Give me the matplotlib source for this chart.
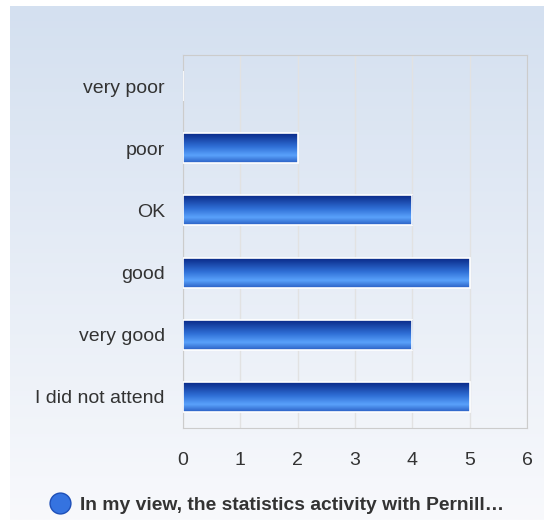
import matplotlib.pyplot as plt
import numpy as np
from matplotlib.colors import LinearSegmentedColormap
from matplotlib.lines import Line2D

categories = ['very poor', 'poor', 'OK', 'good', 'very good', 'I did not attend']
counts = [0, 2, 4, 5, 4, 5]
series_name = 'In my view, the statistics activity with Pernill…'
xticks = [0, 1, 2, 3, 4, 5, 6]

plt.rcParams['font.family'] = ['Liberation Sans', 'DejaVu Sans']

fig = plt.figure(figsize=(5.44, 5.20), dpi=100)
fig.patch.set_facecolor('white')

# background panel with soft vertical gradient
bg = fig.add_axes([10 / 544, 0, 534 / 544, 514 / 520], zorder=-10)
bg_cmap = LinearSegmentedColormap.from_list('bg', ['#f8f9fc', '#d4e0f0'])
bg.imshow(np.linspace(0, 1, 256).reshape(-1, 1)[::-1], aspect='auto', cmap=bg_cmap,
          extent=[0, 1, 0, 1])
bg.axis('off')

ax = fig.add_axes([183 / 544, 1 - 428 / 520, 344 / 544, 373 / 520])
ax.set_facecolor('none')

bar_cmap = LinearSegmentedColormap.from_list(
    'bar', [(0.0, '#2a5fc4'), (0.25, '#5aa2fb'), (0.55, '#2f6fd6'), (1.0, '#0a2a88')])
grad = np.linspace(0, 1, 64).reshape(-1, 1)

y = np.arange(len(categories))
h = 0.48
for yi, v in zip(y, counts):
    ax.imshow(grad, aspect='auto', cmap=bar_cmap, origin='lower',
              extent=[0, v, yi + h / 2, yi - h / 2], zorder=3, interpolation='bilinear')
    ax.barh(yi, v, height=h, facecolor='none', edgecolor='white', linewidth=1.2, zorder=4)

ax.set_xlim(0, 6)
ax.set_ylim(len(categories) - 0.5, -0.5)
ax.set_xticks(xticks)
ax.set_yticks(y)
ax.set_yticklabels(categories)
ax.tick_params(axis='both', length=0, labelsize=14, colors='#333333')
ax.tick_params(axis='y', pad=13)
ax.tick_params(axis='x', pad=17)
ax.grid(axis='x', color='#e2e2e2', linewidth=1, zorder=0)
ax.set_axisbelow(True)
for s in ax.spines.values():
    s.set_color('#cccccc')

handle = Line2D([], [], marker='o', linestyle='none', markersize=15,
                markerfacecolor='#3573e0', markeredgecolor='#1d4fb8')
fig.legend([handle], [series_name], loc='center', bbox_to_anchor=(0.5, 1 - 505 / 520),
           frameon=False, handletextpad=0.05, prop={'weight': 'bold', 'size': 13.9},
           labelcolor='#333333')

fig.savefig('out.png', dpi=100)
